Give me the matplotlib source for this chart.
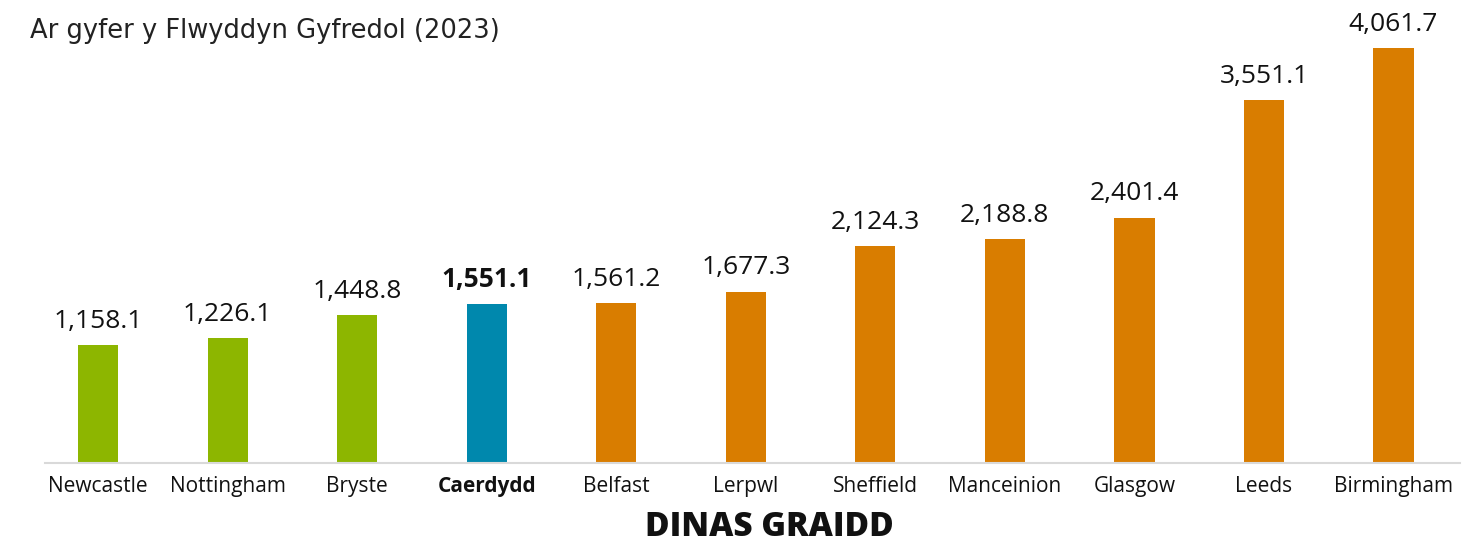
import matplotlib
matplotlib.use("Agg")
import matplotlib.pyplot as plt

cities = ["Newcastle", "Nottingham", "Bryste", "Caerdydd", "Belfast", "Lerpwl",
          "Sheffield", "Manceinion", "Glasgow", "Leeds", "Birmingham"]
values = [1158.1, 1226.1, 1448.8, 1551.1, 1561.2, 1677.3,
          2124.3, 2188.8, 2401.4, 3551.1, 4061.7]
groups = ["low", "low", "low", "cardiff", "high", "high",
          "high", "high", "high", "high", "high"]
group_colors = {"low": "#8DB600", "cardiff": "#0088AD", "high": "#D97D00"}
highlight = "Caerdydd"
subtitle = "Ar gyfer y Flwyddyn Gyfredol (2023)"
xlabel = "DINAS GRAIDD"

plt.rcParams["font.family"] = ["Open Sans", "DejaVu Sans"]

fig = plt.figure(figsize=(14.69, 5.43), dpi=100)
ax = fig.add_axes([0.0306, 0.1473, 0.963, 0.847])

x = list(range(len(cities)))
colors = [group_colors[g] for g in groups]
ax.bar(x, values, width=0.31, color=colors, zorder=2)

for xi, v, c in zip(x, values, cities):
    bold = c == highlight
    ax.annotate(f"{v:,.1f}", (xi, v), xytext=(0, 8), textcoords="offset points",
                ha="center", va="bottom", fontsize=19,
                fontweight="bold" if bold else "normal", color="#111111")

ax.set_xlim(-0.41, 10.51)
ax.set_ylim(0, 4500)
ax.set_xticks(x)
ax.set_xticklabels(cities, fontsize=15, color="#111111")
for lbl in ax.get_xticklabels():
    if lbl.get_text() == highlight:
        lbl.set_fontweight("bold")
ax.tick_params(axis="x", length=0, pad=9)
ax.set_yticks([])
for s in ["top", "right", "left"]:
    ax.spines[s].set_visible(False)
ax.spines["bottom"].set_color("#D9D9D9")
ax.spines["bottom"].set_linewidth(1.5)

ax.set_xlabel(xlabel, fontsize=24, fontweight="heavy", color="#111111", labelpad=10)
ax.xaxis.label.set_x(0.512)

fig.text(0.0204, 0.943, subtitle, fontsize=18.5, color="#222222", ha="left", va="center",
         family=["DejaVu Sans"])

fig.savefig("out.png", dpi=100)
